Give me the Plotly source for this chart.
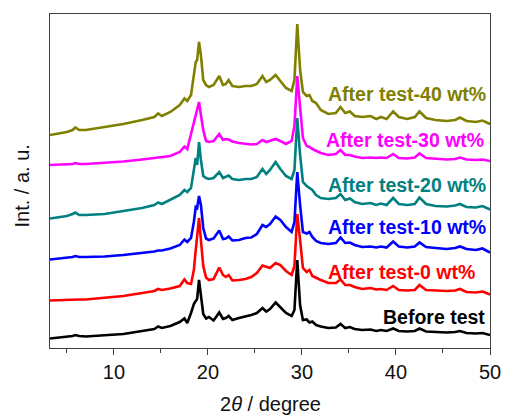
import plotly.graph_objects as go

# Diffraction angle grid (2θ, degrees) shared by all patterns
two_theta = [3.2, 5.0, 5.6, 5.9, 6.3, 7.0, 9.0, 11.0, 13.0, 14.3, 14.7, 15.1, 16.0, 17.0,
             17.5, 17.8, 18.2, 18.5, 18.7, 18.85, 19.05, 19.25, 19.5, 19.8, 20.1, 20.6,
             21.2, 21.6, 21.9, 22.2, 22.6, 23.3, 24.0, 24.6, 25.2, 25.8, 26.2, 26.6, 27.2,
             27.7, 28.3, 28.9, 29.2, 29.5, 29.8, 30.1, 30.5, 30.8, 31.1, 31.5, 32.0, 32.8,
             33.6, 34.1, 34.6, 35.1, 35.6, 36.4, 37.3, 37.9, 38.4, 39.0, 39.7, 40.3, 41.2,
             42.0, 42.5, 43.2, 44.2, 45.4, 46.3, 46.8, 47.5, 48.5, 49.2, 50.0]

# Stacked intensities (arbitrary units, offsets included)
before_test = [9.5, 11, 12, 13, 12, 11.5, 12.5, 14, 17, 19, 21.5, 20, 22, 26,
               29.5, 25, 35, 44, 47, 49, 68, 50, 34, 29.5, 31, 27.5,
               35.5, 29, 30, 32, 28, 30, 31.5, 33, 35, 40, 36.5, 39, 45.5,
               41, 35, 32, 38, 88, 43, 28, 28.5, 25.5, 26.5, 23, 21.5, 20,
               20.5, 24, 20, 21, 19, 18, 18.5, 17, 18, 17, 19.5, 17, 16.5,
               17, 19.5, 16.5, 16, 15.5, 16, 17, 15, 14.5, 15, 13]

after_0 = [47.5, 48, 48.5, 49, 48.5, 48.5, 50, 52, 55, 57, 59, 58, 59.5, 62,
           68.5, 65, 64, 78, 98, 111, 130, 108, 82, 70.5, 68, 69,
           80.5, 73, 71, 73, 67.5, 68, 69, 71, 75, 82.5, 81, 80, 85,
           83, 77, 73, 82, 134, 108, 80, 76, 78, 72, 70, 68, 65,
           65, 68.5, 63, 63, 61, 59, 60, 58.5, 59, 58, 62, 58, 57.5,
           58, 63, 58, 57.5, 57, 57.5, 59, 56, 55.5, 56.5, 53.5]

after_10 = [88.5, 90, 91, 92, 91, 91, 91.5, 93, 95, 96.5, 97.5, 97.5, 99.5, 103,
            108.5, 106, 110, 126, 141, 140, 152, 143, 120, 109.5, 108, 109.5,
            117.5, 109, 109.5, 111.5, 107.5, 108, 110, 110.5, 114, 123, 121, 124, 131.5,
            128, 121, 116, 126, 176, 143, 116, 114.5, 116, 111, 107, 105, 104,
            105, 110.5, 105, 105.5, 103, 101, 101.5, 100.5, 101.5, 100.5, 106.5, 101.5, 100.5,
            101.5, 105.5, 101, 100, 99, 100, 101.5, 99, 98, 99.5, 95.5]

after_20 = [129.5, 132, 134, 135.5, 133, 133, 134, 137, 140, 143, 145.5, 144, 148, 153,
            158, 156, 160, 178, 190, 183, 206, 188, 172, 170, 169, 170,
            176, 170, 171, 172.5, 169, 168, 169, 169, 171, 179, 174, 178, 186,
            179, 172, 169, 178, 230, 193, 166, 162, 160, 158, 153, 150, 149,
            150, 154, 148, 149.5, 146, 144, 145, 143, 144.5, 143, 150, 144, 143,
            144, 150.5, 144, 142, 141.5, 142.5, 144, 141, 140.5, 142, 138.5]

after_30 = [183, 183.5, 184, 185, 184, 184, 185, 186.5, 188.5, 190, 190.5, 190.5, 192, 196,
            201.5, 199, 215, 227, 235, 240, 246, 233, 218, 207, 206, 207,
            214, 208, 209, 208.5, 206.5, 205, 204.5, 203.5, 204, 208, 206, 207, 209,
            207, 204, 207, 222, 272, 238, 210, 202, 201, 199, 197, 195, 193,
            194, 198, 193, 193, 191.5, 190, 190.5, 190, 190.5, 190, 194, 190, 189.5,
            190.5, 194.5, 190, 189, 188.5, 189, 190.5, 188.5, 188, 188.5, 187]

after_40 = [213, 216, 218, 220.5, 218, 218, 221, 224, 228, 231, 234.5, 232, 236, 243,
            249.5, 247, 253, 273, 286, 288, 306, 293, 268, 263, 261, 263,
            272, 263, 264, 268, 262, 261, 262, 262, 264, 272, 266, 268, 273,
            267, 260, 257, 268, 324, 278, 256, 252, 253, 247, 245, 238, 234,
            235, 241, 235, 236.5, 232, 231, 232, 229, 231, 229, 236.5, 231, 229,
            231, 236.5, 230, 228, 227, 228, 230.5, 227, 226, 227.5, 224]

series_names = ["Before test", "After test-0 wt%", "After test-10 wt%",
                "After test-20 wt%", "After test-30 wt%", "After test-40 wt%"]
series_data = [before_test, after_0, after_10, after_20, after_30, after_40]
series_colors = ["#000000", "#FF0000", "#0000FF", "#008080", "#FF00FF", "#808000"]

# label anchor heights (same units as intensity) and right edges (2θ)
label_levels = [31, 76.5, 121.5, 163, 208.5, 254.5]
label_right = [49.65, 48.65, 49.75, 49.75, 49.55, 49.75]

fig = go.Figure()
for name, ys, col in zip(series_names, series_data, series_colors):
    fig.add_trace(go.Scatter(x=two_theta, y=ys, mode="lines", name=name,
                             line=dict(color=col, width=2.6), showlegend=False))

for name, lvl, xr, col in zip(series_names, label_levels, label_right, series_colors):
    fig.add_annotation(x=xr, y=lvl, xref="x", yref="y", text=name, showarrow=False,
                       xanchor="right", yanchor="middle",
                       font=dict(family="Liberation Sans", size=19.5, color=col, weight="bold"))

axis_col = "#404040"
fig.update_xaxes(range=[3.2, 50], tick0=0, dtick=10, ticks="outside", ticklen=6, tickwidth=1.3,
                 tickcolor=axis_col, showline=True, linecolor=axis_col, linewidth=1.3,
                 mirror=True, showgrid=False, zeroline=False,
                 tickfont=dict(family="Liberation Sans", size=20, color="#111111"),
                 minor=dict(dtick=5, tick0=0, ticks="outside", ticklen=4, tickcolor=axis_col,
                            tickwidth=1.3, showgrid=False))
fig.update_yaxes(range=[0, 334], showticklabels=False, ticks="", showline=True,
                 linecolor=axis_col, linewidth=1.3, mirror=True, showgrid=False, zeroline=False)

fig.add_annotation(x=0.5, y=-0.168, xref="paper", yref="paper", showarrow=False,
                   text="2<i>θ</i> / degree", xanchor="center", yanchor="middle",
                   font=dict(family="Liberation Sans", size=20, color="#111111"))
fig.add_annotation(x=-0.0625, y=0.485, xref="paper", yref="paper", showarrow=False,
                   text="Int. / a. u.", textangle=-90, xanchor="center", yanchor="middle",
                   font=dict(family="Liberation Sans", size=20, color="#111111"))

fig.update_layout(width=513, height=419, margin=dict(l=50, r=15, t=14, b=71),
                  plot_bgcolor="white", paper_bgcolor="white")

fig.write_html("out.html")
